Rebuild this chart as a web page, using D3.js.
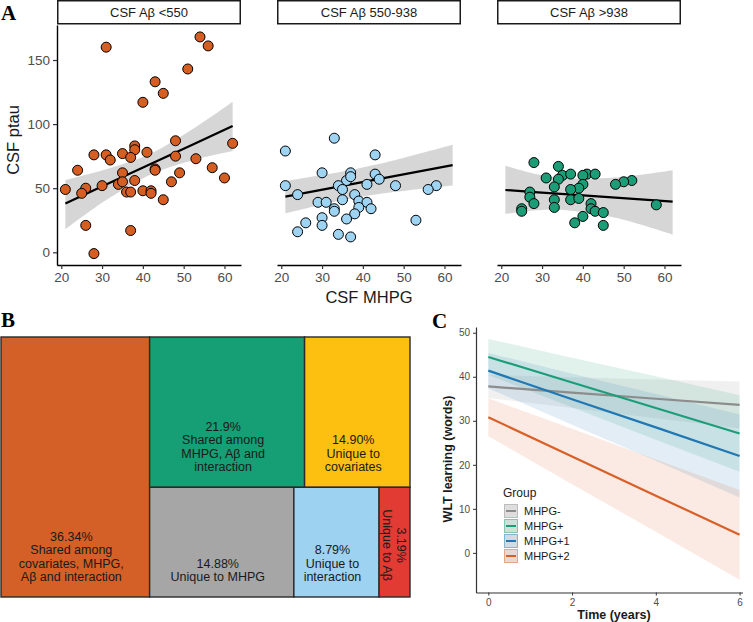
<!DOCTYPE html>
<html lang="en">
<head>
<meta charset="UTF-8">
<script src="https://d3js.org/d3.v7.min.js"></script>
<style>
  body { margin: 0; background: #fff; }
  text { font-family: "Liberation Sans", Arial, sans-serif; }
  .tag { font-family: "Liberation Serif", "DejaVu Serif", serif; font-weight: bold; font-size: 21px; }
</style>
</head>
<body>
<div id="chart"></div>
<script>
// ---- panel A : CSF MHPG vs CSF ptau, by amyloid group ----
const facetLabels = ["CSF Aβ <550", "CSF Aβ 550-938", "CSF Aβ >938"];
const facetColors = ["#D55E22", "#9ED3F2", "#1B9E77"];

const lowAbeta = [[21,49],[31,160],[54,168],[56,161],[51,143],[43,133],[45,124],[40,117],[62,85],[48,87],
  [38,83],[38,80],[41,78],[28,76],[31,76],[32,72],[35,77],[37,74],[48,75],[53,73],[24,64],[57,66],[43,65],
  [43,64],[35,62],[49,62],[30,52],[34,53],[35,55],[38,56],[47,55],[60,58],[26,50],[25,46],[36,47],[37,47],
  [40,48],[42,48],[42,46],[45,41],[26,21],[37,17],[28,-1]];
const midAbeta = [[21,79],[33,89],[43,76],[30,62],[37,62],[43,61],[44,57],[21,52],[36,56],[37,59],[34,52],
  [41,53],[48,52],[58,52],[56,49],[24,45],[35,49],[38,45],[35,41],[39,40],[29,39],[31,39],[41,39],[39,35],
  [33,34],[33,32],[42,34],[30,27],[38,30],[36,26],[26,23],[30,21],[53,25],[24,16],[34,14],[37,12]];
const highAbeta = [[28,70],[34,67],[31,58],[35,60],[37,61],[41,61],[43,61],[40,60],[34,57],[52,56],[50,55],
  [48,53],[40,53],[33,51],[39,50],[37,49],[27,47],[27,43],[28,38],[33,41],[37,41],[39,42],[42,38],[58,37],
  [33,35],[42,34],[43,32],[45,31],[25,34],[25,32],[40,28],[38,23],[45,21]];
const facetData = [lowAbeta, midAbeta, highAbeta];

// fitted line and 95% band per facet
const smoothX = [[21, 31, 41.5, 52, 62], [21, 35, 48, 62], [21, 29, 36.5, 48, 62]];
const smoothFit = [[38, 52.8, 68.2, 83.7, 98.5], [43.4, 51.8, 59.6, 68], [48.6, 46.8, 45.2, 42.6, 39.5]];
const smoothLo = [[18, 40.8, 60.2, 71.7, 79], [30.4, 40.6, 47.2, 52.2], [30, 32.9, 32.7, 26.9, 13.8]];
const smoothHi = [[56.4, 64.8, 76.2, 95.7, 117.5], [55.6, 63.0, 72.0, 83.8], [67.6, 60.7, 57.7, 58.3, 64]];

const mhpgTicks = [20, 30, 40, 50, 60];
const ptauTicks = [0, 50, 100, 150];

// ---- panel B : variance partition ----
const shareValues = [36.34, 21.9, 14.90, 14.88, 8.79, 3.19];
const shareLabels = [
  ["36.34%", "Shared among", "covariates, MHPG,", "Aβ and interaction"],
  ["21.9%", "Shared among", "MHPG, Aβ and", "interaction"],
  ["14.90%", "Unique to", "covariates"],
  ["14.88%", "Unique to MHPG"],
  ["8.79%", "Unique to", "interaction"],
  ["3.19%", "Unique to Aβ"]
];
const shareColors = ["#D46027", "#169E74", "#FDC010", "#A6A6A6", "#9DD2F1", "#E13B34"];

// ---- panel C : WLT learning over time ----
const timePoints = [0, 2, 4, 6];
const groupNames = ["MHPG-", "MHPG+", "MHPG+1", "MHPG+2"];
const groupColors = ["#8C8C8C", "#1B9E77", "#1F77B4", "#DA5F26"];
const groupFit = [
  [37.8, 36.4, 35.0, 33.6],
  [44.5, 38.7, 32.9, 27.1],
  [41.4, 34.9, 28.5, 22.0],
  [30.8, 21.9, 13.0, 4.1]
];
const groupLower = [
  [35.2, 32.9, 30.6, 28.3],
  [40.4, 33.1, 25.7, 18.4],
  [37.4, 29.1, 20.9, 12.6],
  [26.5, 15.6, 4.8, -6.1]
];
const groupUpper = [
  [40.4, 39.9, 39.4, 38.9],
  [48.6, 44.3, 40.1, 35.8],
  [45.4, 40.7, 36.1, 31.4],
  [35.1, 28.2, 21.2, 14.3]
];
const timeTicks = [0, 2, 4, 6];
const wltTicks = [0, 10, 20, 30, 40, 50];

const W = 753, H = 622;
const svg = d3.select("#chart").append("svg").attr("width", W).attr("height", H);

// ================= A =================
svg.append("text").attr("class", "tag").attr("x", 1).attr("y", 20).text("A");

const panelLefts = [57, 277, 497];
const panelW = 184, panelTop = 25, panelBottom = 265;
const yA = d3.scaleLinear().domain([-9.9, 177.3]).range([panelBottom, panelTop]);

facetData.forEach(function(pts, k) {
  const left = panelLefts[k];
  const x = d3.scaleLinear().domain([18.95, 64.05]).range([left, left + panelW]);
  const g = svg.append("g");

  // strip
  g.append("rect").attr("x", left + 0.75).attr("y", 0.75).attr("width", panelW - 1.5).attr("height", 23)
    .attr("fill", "#fff").attr("stroke", "#1a1a1a").attr("stroke-width", 1.5);
  g.append("text").attr("x", left + panelW / 2).attr("y", 17).attr("text-anchor", "middle")
    .attr("font-size", "13px").attr("fill", "#1a1a1a").text(facetLabels[k]);

  const band = smoothX[k].map((v, i) => ({ x: v, f: smoothFit[k][i], lo: smoothLo[k][i], hi: smoothHi[k][i] }));
  g.append("path").datum(band)
    .attr("d", d3.area().curve(d3.curveCatmullRom).x(d => x(d.x)).y0(d => yA(d.lo)).y1(d => yA(d.hi)))
    .attr("fill", "#999").attr("fill-opacity", 0.4);
  g.append("path").datum(band)
    .attr("d", d3.line().x(d => x(d.x)).y(d => yA(d.f)))
    .attr("fill", "none").attr("stroke", "#000").attr("stroke-width", 2.2);

  g.selectAll("circle").data(pts).enter().append("circle")
    .attr("cx", d => x(d[0])).attr("cy", d => yA(d[1])).attr("r", 5)
    .attr("fill", facetColors[k]).attr("stroke", "#000").attr("stroke-width", 1);

  const ax = g.append("g").attr("transform", "translate(0," + panelBottom + ")")
    .call(d3.axisBottom(x).tickValues(mhpgTicks).tickSize(4).tickSizeOuter(0).tickPadding(3));
  ax.select(".domain").attr("stroke", "#000").attr("stroke-width", 1.4);
  ax.selectAll(".tick line").attr("stroke", "#333").attr("stroke-width", 1.2);
  ax.selectAll(".tick text").attr("font-size", "13.5px").attr("fill", "#4d4d4d")
    .attr("font-family", "Liberation Sans, Arial, sans-serif");

  if (k === 0) {
    const ay = g.append("g").attr("transform", "translate(" + left + ",0)")
      .call(d3.axisLeft(yA).tickValues(ptauTicks).tickSize(4).tickSizeOuter(0).tickPadding(3));
    ay.select(".domain").attr("stroke", "#000").attr("stroke-width", 1.4);
    ay.selectAll(".tick line").attr("stroke", "#333").attr("stroke-width", 1.2);
    ay.selectAll(".tick text").attr("font-size", "13.5px").attr("fill", "#4d4d4d")
      .attr("font-family", "Liberation Sans, Arial, sans-serif");
  }
});

svg.append("text").attr("transform", "translate(19,140) rotate(-90)").attr("text-anchor", "middle")
  .attr("font-size", "16.5px").attr("fill", "#1a1a1a").text("CSF ptau");
svg.append("text").attr("x", 369).attr("y", 303).attr("text-anchor", "middle")
  .attr("font-size", "16.5px").attr("fill", "#1a1a1a").text("CSF MHPG");

// ================= B =================
svg.append("text").attr("class", "tag").attr("x", 1).attr("y", 327).text("B");

const leaf = i => ({ idx: i, value: shareValues[i] });
const tree = {
  children: [leaf(0), { children: [{ children: [leaf(1), leaf(2)] }, { children: [leaf(3), leaf(4), leaf(5)] }] }]
};
const root = d3.hierarchy(tree).sum(d => d.value || 0);
d3.treemap().tile(d3.treemapSliceDice).size([409, 260]).round(false)(root);

const gB = svg.append("g").attr("transform", "translate(1,337)");
const cells = gB.selectAll("g.cell").data(root.leaves()).enter().append("g").attr("class", "cell");
cells.append("rect")
  .attr("x", d => d.x0).attr("y", d => d.y0)
  .attr("width", d => d.x1 - d.x0).attr("height", d => d.y1 - d.y0)
  .attr("fill", d => shareColors[d.data.idx]).attr("stroke", "#2a2a2a").attr("stroke-width", 1.4);

cells.each(function(d) {
  const lines = shareLabels[d.data.idx];
  const cell = d3.select(this);
  if (d.data.idx === 5) {
    const cx = (d.x0 + d.x1) / 2, cy = (d.y0 + d.y1) / 2 + 3;
    const t = cell.append("text").attr("transform", "translate(" + cx + "," + cy + ") rotate(90)")
      .attr("text-anchor", "middle").attr("font-size", "12.5px").attr("fill", "#1a1a1a");
    lines.forEach((s, i) => t.append("tspan").attr("x", 0).attr("y", (i - 0.5) * 13.4 + 4.5).text(s));
  } else {
    const cx = (d.x0 + d.x1) / 2 - 4;
    const last = d.y1 - 16;
    const t = cell.append("text").attr("text-anchor", "middle").attr("font-size", "12.5px").attr("fill", "#1a1a1a");
    lines.forEach((s, i) => t.append("tspan").attr("x", cx)
      .attr("y", last - (lines.length - 1 - i) * 13.4).text(s));
  }
});

// ================= C =================
svg.append("text").attr("class", "tag").attr("x", 432).attr("y", 328).text("C");

const xC = d3.scaleLinear().domain([-0.294, 6.07]).range([476, 742.5]);
const yC = d3.scaleLinear().domain([-9.0, 51.3]).range([592.5, 327]);
const gC = svg.append("g");

groupNames.forEach(function(name, k) {
  const rows = timePoints.map((t, i) => ({ t: t, lo: groupLower[k][i], hi: groupUpper[k][i] }));
  gC.append("path").datum(rows)
    .attr("d", d3.area().x(d => xC(d.t)).y0(d => yC(d.lo)).y1(d => yC(d.hi)))
    .attr("fill", groupColors[k]).attr("fill-opacity", 0.13);
});
groupNames.forEach(function(name, k) {
  const rows = timePoints.map((t, i) => ({ t: t, v: groupFit[k][i] }));
  gC.append("path").datum(rows)
    .attr("d", d3.line().x(d => xC(d.t)).y(d => yC(d.v)))
    .attr("fill", "none").attr("stroke", groupColors[k]).attr("stroke-width", 2.2);
});

const axC = gC.append("g").attr("transform", "translate(0,592.5)")
  .call(d3.axisBottom(xC).tickValues(timeTicks).tickFormat(d3.format("d")).tickSize(3).tickSizeOuter(0).tickPadding(3));
const ayC = gC.append("g").attr("transform", "translate(476,0)")
  .call(d3.axisLeft(yC).tickValues(wltTicks).tickFormat(d3.format("d")).tickSize(3).tickSizeOuter(0).tickPadding(3));
[axC, ayC].forEach(function(a) {
  a.select(".domain").attr("stroke", "#333").attr("stroke-width", 1.2);
  a.selectAll(".tick line").attr("stroke", "#333");
  a.selectAll(".tick text").attr("font-size", "10px").attr("fill", "#4d4d4d")
    .attr("font-family", "Liberation Sans, Arial, sans-serif");
});

svg.append("text").attr("transform", "translate(452,459) rotate(-90)").attr("text-anchor", "middle")
  .attr("font-size", "12.5px").attr("font-weight", "bold").attr("fill", "#1a1a1a").text("WLT learning (words)");
svg.append("text").attr("x", 614).attr("y", 619).attr("text-anchor", "middle")
  .attr("font-size", "12.5px").attr("font-weight", "bold").attr("fill", "#1a1a1a").text("Time (years)");

// legend
const legend = svg.append("g").attr("transform", "translate(503,489)");
legend.append("text").attr("x", 0).attr("y", 8).attr("font-size", "12px").attr("fill", "#1a1a1a").text("Group");
groupNames.forEach(function(name, k) {
  const row = legend.append("g").attr("transform", "translate(1," + (15 + k * 15) + ")");
  row.append("rect").attr("width", 14).attr("height", 14).attr("fill", "#ebebeb");
  row.append("rect").attr("x", 0.5).attr("y", 0.5).attr("width", 13).attr("height", 13)
    .attr("fill", groupColors[k]).attr("fill-opacity", 0.13)
    .attr("stroke", groupColors[k]).attr("stroke-opacity", 0.45).attr("stroke-width", 1);
  row.append("line").attr("x1", 2).attr("x2", 12).attr("y1", 7).attr("y2", 7)
    .attr("stroke", groupColors[k]).attr("stroke-width", 2);
  row.append("text").attr("x", 20).attr("y", 11).attr("font-size", "11px").attr("fill", "#1a1a1a").text(name);
});
</script>
</body>
</html>
